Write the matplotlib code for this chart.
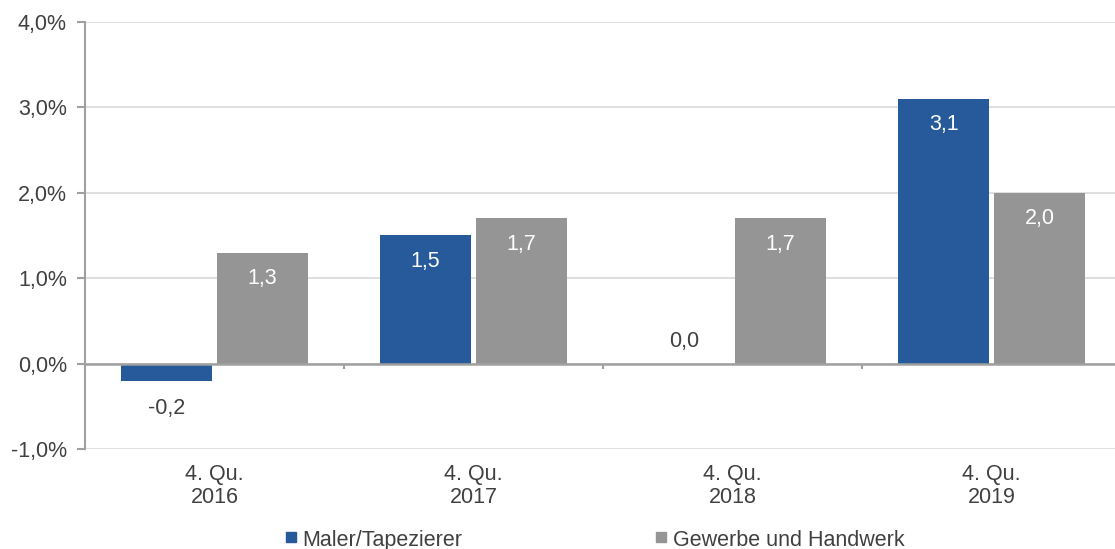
import matplotlib
matplotlib.use("Agg")
import matplotlib.pyplot as plt
from matplotlib.ticker import FuncFormatter
from matplotlib.patches import Rectangle
import numpy as np

categories = ["4. Qu.\n2016", "4. Qu.\n2017", "4. Qu.\n2018", "4. Qu.\n2019"]
maler = [-0.2, 1.5, 0.0, 3.1]
gewerbe = [1.3, 1.7, 1.7, 2.0]
series_names = ["Maler/Tapezierer", "Gewerbe und Handwerk"]
yticks = [-1, 0, 1, 2, 3, 4]

BLUE = "#275A9A"
GRAY = "#959595"
TXT = "#404040"
AX = "#A0A0A0"

plt.rcParams['font.family'] = ['Liberation Sans', 'DejaVu Sans']
FS = 15.5

fig = plt.figure(figsize=(11.15, 5.49), dpi=100)
W, H = 1115, 549
left_px, right_px, top_px, bot_px = 85, 85 + 4 * 259, 22, 449
ax = fig.add_axes([left_px / W, 1 - bot_px / H, (right_px - left_px) / W, (bot_px - top_px) / H])

x = np.arange(len(categories))
bw = 0.351
off = 0.185
b1 = ax.bar(x - off, maler, width=bw, color=BLUE, zorder=3)
b2 = ax.bar(x + off, gewerbe, width=bw, color=GRAY, zorder=3)

ax.set_xlim(-0.5, len(categories) - 0.5)
ax.set_ylim(-1, 4)
ax.set_yticks(yticks)
ax.yaxis.set_major_formatter(FuncFormatter(lambda v, p: f"{v:.1f}%".replace(".", ",")))
ax.tick_params(axis='y', length=6, width=1.5, color=AX, labelsize=FS, labelcolor=TXT, pad=7)
ax.set_xticks([])
ax.grid(axis='y', color="#D9D9D9", linewidth=1.2, zorder=0)
ax.set_axisbelow(True)
for s in ['top', 'right', 'bottom']:
    ax.spines[s].set_visible(False)
ax.spines['left'].set_color(AX)
ax.spines['left'].set_linewidth(1.5)

ax.axhline(0, color=AX, linewidth=1.8, zorder=4)
ax.vlines([0.5, 1.5, 2.5], 0, -0.067, color=AX, linewidth=1.5, zorder=4)

for i, c in enumerate(categories):
    ax.annotate(c, xy=(i, 0), xycoords=('data', 'axes fraction'), xytext=(0, -15),
                textcoords='offset pixels', ha='center', va='top', fontsize=FS,
                color=TXT, linespacing=1.12)

def label(bars, vals):
    for b, v in zip(bars, vals):
        xc = b.get_x() + b.get_width() / 2
        s = f"{v:.1f}".replace(".", ",")
        if v > 0:
            ax.annotate(s, xy=(xc, v), xytext=(0, -26), textcoords='offset pixels',
                        ha='center', va='center', fontsize=FS, color='white', zorder=5)
        elif v < 0:
            ax.annotate(s, xy=(xc, v), xytext=(0, -28), textcoords='offset pixels',
                        ha='center', va='center', fontsize=FS, color=TXT, zorder=5)
        else:
            ax.annotate(s, xy=(xc, v), xytext=(0, 22), textcoords='offset pixels',
                        ha='center', va='center', fontsize=FS, color=TXT, zorder=5)

label(b1, maler)
label(b2, gewerbe)

# legend
for (sx, tx, col, name) in [(286, 302, BLUE, series_names[0]), (656, 673, GRAY, series_names[1])]:
    fig.patches.append(Rectangle((sx / W, 1 - 542 / H), 10 / W, 10 / H,
                                 transform=fig.transFigure, color=col))
    fig.text(tx / W, 1 - 546 / H, name, fontsize=FS, color=TXT, ha='left', va='baseline')

fig.savefig("out.png", dpi=100)
